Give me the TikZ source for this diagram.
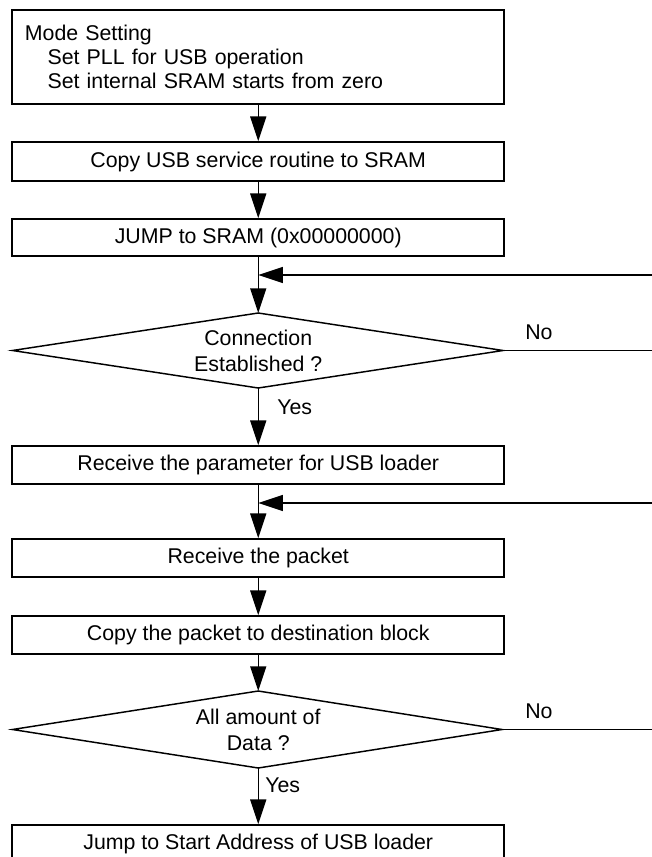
\documentclass[tikz,border=0pt]{standalone}
\usepackage{fontspec}
\setmainfont{Liberation Sans}
\usetikzlibrary{arrows.meta}
\begin{document}
\begin{tikzpicture}[x=0.75pt,y=-0.75pt,
  txt/.style={font=\fontsize{16}{19.5}\selectfont},
  box/.style={draw,line width=1.3pt,rectangle,minimum width=369pt,inner sep=0pt,txt},
  conn/.style={line width=1pt,-{Triangle[length=18.5pt,width=12pt]}},
  plainline/.style={line width=1pt},
  dia/.style={line width=1.1pt},
  lbl/.style={inner sep=0pt,anchor=west,txt}]
\useasboundingbox (0,0) rectangle (652,857);
\clip (0,0) rectangle (652,857);

% process boxes
\node[box,minimum height=70.5pt,text width=350pt,inner xsep=9.5pt,align=left,
      font=\fontsize{16}{18}\selectfont] (box1) at (258.25,57)
  {Mode Setting\\
   \hspace*{17pt}Set PLL for USB operation\\
   \hspace*{17pt}Set internal SRAM starts from zero};
\node[box,minimum height=29.25pt] (box2) at (258.25,161.5) {Copy USB service routine to SRAM};
\node[box,minimum height=27.75pt] (box3) at (258.25,237.5) {JUMP to SRAM (0x00000000)};
\node[box,minimum height=28.5pt] (box4) at (258.25,465) {Receive the parameter for USB loader};
\node[box,minimum height=28.5pt] (box5) at (258.25,558) {Receive the packet};
\node[box,minimum height=28.5pt] (box6) at (258.25,635) {Copy the packet to destination block};
\node[box,minimum height=28.5pt] (box7) at (258.25,844) {Jump to Start Address of USB loader};

% decision 1
\coordinate (d1t) at (258.25,313);
\coordinate (d1r) at (503,350.5);
\coordinate (d1b) at (258.25,388);
\coordinate (d1l) at (12.5,350.5);
\draw[dia] (d1t) -- (d1r) -- (d1b) -- (d1l) -- cycle;
\node[txt,align=center,inner sep=0pt] (dec1) at (258.25,351) {Connection\\Established ?};

% decision 2
\coordinate (d2t) at (258.25,691);
\coordinate (d2r) at (502,729.5);
\coordinate (d2b) at (258.25,768);
\coordinate (d2l) at (12.5,729.5);
\draw[dia] (d2t) -- (d2r) -- (d2b) -- (d2l) -- cycle;
\node[txt,align=center,inner sep=0pt] (dec2) at (258.25,730) {All amount of\\Data ?};

% loop points
\coordinate (j1) at (258.25,275);
\coordinate (r1) at (652,275);
\coordinate (n1) at (652,350.5);
\coordinate (j2) at (258.25,503);
\coordinate (r2) at (652,503);
\coordinate (n2) at (652,729.5);

% connectors
\draw[conn] (box1.south) -- (box2.north);
\draw[conn] (box2.south) -- (box3.north);
\draw[conn] (box3.south) -- (d1t);
\draw[conn] (r1) -- (j1);
\draw[plainline] (d1r) -- (n1);
\draw[conn] (d1b) -- (box4.north);
\draw[conn] (box4.south) -- (box5.north);
\draw[conn] (r2) -- (j2);
\draw[conn] (box5.south) -- (box6.north);
\draw[conn] (box6.south) -- (d2t);
\draw[plainline] (d2r) -- (n2);
\draw[conn] (d2b) -- (box7.north);

% labels
\node[lbl] (yes1) at (277,407) {Yes};
\node[lbl] (no1) at (525,332) {No};
\node[lbl] (yes2) at (265,785) {Yes};
\node[lbl] (no2) at (525,711) {No};
\end{tikzpicture}
\end{document}
